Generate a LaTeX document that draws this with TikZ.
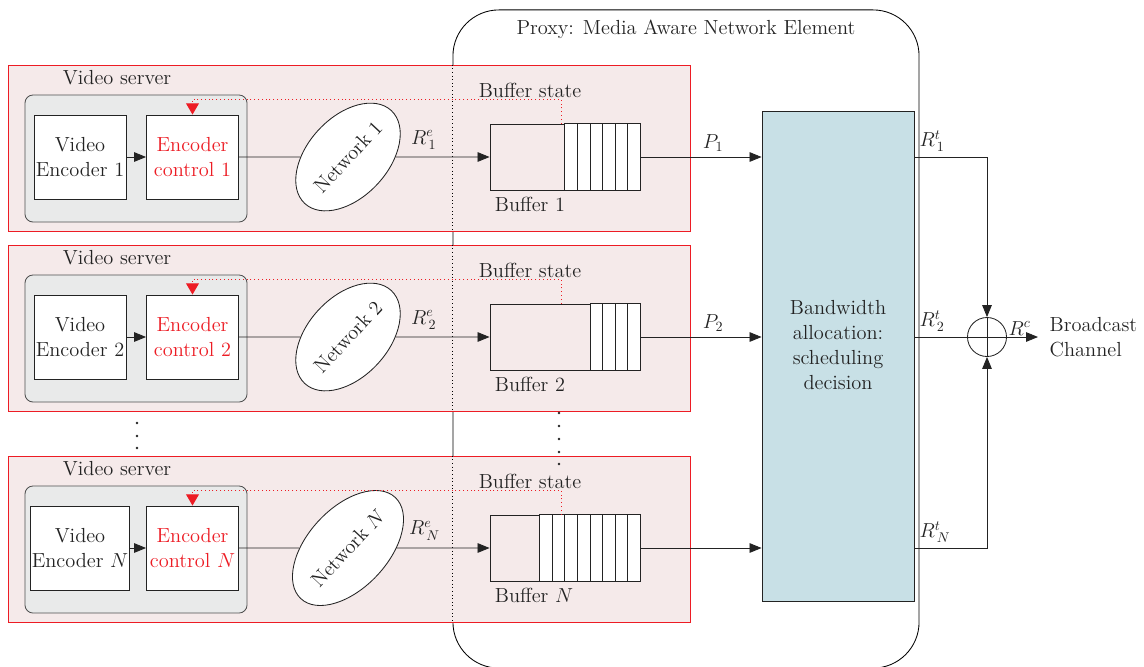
\documentclass[tikz,border=0pt]{standalone}
\usepackage{amsmath,amssymb}
\usepackage{tikz}
\usetikzlibrary{arrows.meta, positioning, calc, shapes.geometric}
\usepackage{xcolor}
\definecolor{srvline}{RGB}{237,28,36}
\definecolor{srvfill}{RGB}{245,234,234}
\definecolor{grpfill}{RGB}{233,234,234}
\definecolor{bwfill}{RGB}{200,224,230}
\definecolor{ink}{RGB}{35,35,35}

\begin{document}
\begin{tikzpicture}[x=0.025cm, y=-0.025cm, >={Triangle[length=3mm,width=2.4mm]},
  every node/.style={font=\fontsize{14.5}{18}\selectfont, text=ink},
  line/.style={draw=ink, line width=0.6pt},
  server/.style={draw=srvline, fill=srvfill, line width=0.6pt, minimum width=17.025cm, minimum height=4.15cm, inner sep=0pt},
  group/.style={draw=ink!80, fill=grpfill, line width=0.6pt, rounded corners=0.2cm, minimum width=5.55cm, minimum height=3.175cm, inner sep=0pt},
  block/.style={draw=ink, fill=white, line width=0.6pt, minimum width=2.3cm, minimum height=2.1cm, align=center, inner sep=1pt},
  netw/.style={ellipse, draw=ink, fill=white, line width=0.6pt, rotate=47, minimum width=3cm, minimum height=2cm, inner sep=0pt},
  queue/.style={draw=ink, line width=0.6pt, minimum width=3.75cm, minimum height=1.65cm, inner sep=0pt},
  statelink/.style={draw=srvline!75, dotted, line width=0.7pt, -{Triangle[length=2.8mm,width=3.2mm]}, srvline},
  proxyedge/.style={draw=black, dotted, line width=0.6pt}]
\useasboundingbox (0,0) rectangle (1144,666);

% proxy and scheduler
\node[draw=black, line width=0.6pt, rounded corners=1.15cm, minimum width=11.65cm, minimum height=16.45cm] (proxy) at (686,339) {};
\node[below=4pt of proxy.north] (proxylbl) {Proxy: Media Aware Network Element};
\node[draw=ink, fill=bwfill, line width=0.6pt, minimum width=3.8cm, minimum height=12.25cm] (bw) at (838,356) {};
\node[align=center] (bwtxt) at (838,345) {Bandwidth\\allocation:\\scheduling\\decision};

% one row per video server
\foreach \r/\c/\m/\n/\p in {a/157/1/6/{$P_{1}$}, b/337/2/4/{$P_{2}$}, c/548/N/8/{}} {
  \node[server] (srv\r) at (349.5,\c-9) {};
  \draw[proxyedge] (srv\r.north -| proxy.west) -- (srv\r.south -| proxy.west);
  \node[anchor=west] (lbl\r) at (58,\c-79) {Video server};
  \node[group] (grp\r) at (136,\c+1.5) {};
  \node[block] (enc\r) at (80,\c) {Video\\Encoder $\m$};
  \node[block, text=srvline] (ctl\r) at (192.5,\c) {Encoder\\control $\m$};
  \node[netw] (net\r) at (348,\c) {Network $\m$};
  \node[queue] (buf\r) at (565,\c) {};
  \filldraw[line, fill=white] ($(buf\r.north east)+(-12.6*\n,0)$) rectangle (buf\r.south east);
  \foreach \i in {1,...,\n}
    \draw[line] ($(buf\r.north east)+(-12.6*\i,0)$) -- ($(buf\r.south east)+(-12.6*\i,0)$);
  \node[anchor=west] (bufl\r) at (490,\c+47) {Buffer $\m$};
  \node (bufs\r) at (530,\c-67) {Buffer state};
  \coordinate (tap\r) at ($(buf\r.north west)+(72,0)$);
  \draw[statelink] (tap\r) -- ++(0,-24) -| (ctl\r.north);
  \draw[line, ->] (enc\r) -- (ctl\r);
  \draw[line] (ctl\r) -- (net\r);
  \draw[line, ->] (net\r) -- (buf\r) node[pos=0.3, above=2pt] {$R^{e}_{\,\m}$};
  \draw[line, ->] (buf\r) -- (buf\r -| bw.west) node[pos=0.6, above] {\p};
}

% dots for the servers left out
\foreach \y in {423,436,448} \fill[ink] (137,\y) circle (1pt);
\foreach \y in {413,426,439,452,464} \fill[ink] (559,\y) circle (1pt);

% summing point and broadcast output
\node[circle, draw=ink, line width=0.6pt, minimum size=0.975cm, inner sep=0pt] (sum) at (987,337) {};
\coordinate (out) at (1038,337);
\draw[line] (sum.north) -- (sum.south);
\draw[line, ->] (bw.east |- bufa) node[above right] {$R^{t}_{\,1}$} -| (sum.north);
\draw[line, ->] (bw.east |- bufb) node[above right] {$R^{t}_{\,2}$} -- (out);
\draw[line, ->] (bw.east |- bufc) node[above right] {$R^{t}_{\,N}$} -| (sum.south);
\node[anchor=south west, inner sep=1pt] (rc) at (sum.east) {$R^{c}$};
\node[right=0.25cm of out, inner sep=1pt, align=left] (bc) {Broadcast\\Channel};
\end{tikzpicture}
\end{document}
